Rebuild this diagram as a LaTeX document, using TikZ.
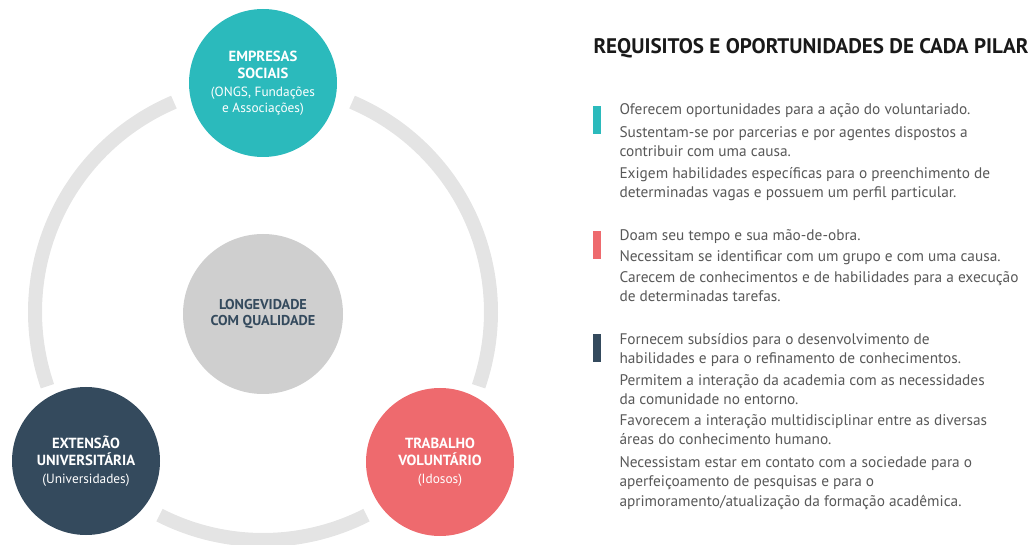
\documentclass[tikz,border=0pt]{standalone}
\usepackage{fontspec}
\setmainfont{PT Sans}
\usetikzlibrary{positioning}

\definecolor{pilarteal}{RGB}{43,186,188}
\definecolor{pilarred}{RGB}{238,106,110}
\definecolor{pilardark}{RGB}{52,74,93}
\definecolor{hubgray}{RGB}{207,207,207}
\definecolor{ringgray}{RGB}{228,228,228}
\definecolor{bodygray}{RGB}{88,88,88}

\tikzset{every picture/.style={line width=0.75pt}}
\tikzset{
  pillar/.style={circle, minimum size=111pt, inner sep=0pt, align=center, text=white,
    font=\fontsize{10}{12.5}\selectfont},
  ring/.style={draw=ringgray, line width=10.5pt},
  bar/.style={inner sep=0pt, minimum width=6.5pt, minimum height=21pt, anchor=north west},
  item/.style={anchor=base west, inner sep=0pt, align=left, text=bodygray,
    font=\fontsize{11.5}{14.6}\selectfont},
}
\newcommand{\pilartitle}[1]{{\fontsize{11}{12.5}\selectfont\bfseries #1}}

\begin{document}
\begin{tikzpicture}[x=0.75pt,y=0.75pt,yscale=-1,xscale=1]
\useasboundingbox (0,0) rectangle (1036,545);

%Ring arcs
\foreach \a/\b in {113/199, 243/297, -19/67}
  \draw[ring] plot[domain=\a:\b, samples=60] ({263+228*cos(\x)},{312-228*sin(\x)});

%Pillars
\node[pillar, fill=hubgray, minimum size=120pt, text=pilardark, font=\fontsize{10.7}{12}\selectfont\bfseries] (longevidade) at (263,314)
  {LONGEVIDADE\\ COM QUALIDADE};
\node[pillar, fill=pilarteal] (empresas) at (263,83)
  {\mbox{}\\[-4pt] \pilartitle{EMPRESAS}\\ \pilartitle{SOCIAIS}\\[1pt] (ONGS, Fundações\\ e Associações)};
\node[pillar, fill=pilardark] (extensao) at (86,461)
  {\pilartitle{EXTENSÃO}\\ \pilartitle{UNIVERSITÁRIA}\\[1pt] (Universidades)};
\node[pillar, fill=pilarred] (trabalho) at (440,462)
  {\pilartitle{TRABALHO}\\ \pilartitle{VOLUNTÁRIO}\\[1pt] (Idosos)};

%Title
\node[anchor=base west, inner sep=0pt, text=black!90, font=\fontsize{15.8}{18}\selectfont\bfseries] (titulo) at (593,54)
  {REQUISITOS E OPORTUNIDADES DE CADA PILAR};

%Bars
\node[bar, fill=pilarteal] (barteal) at (592,106) {};
\node[bar, fill=pilarred] (barred) at (592,231) {};
\node[bar, fill=pilardark] (bardark) at (592,334) {};

%Items: empresas (anchored at the last line)
\node[item] (e1) at (619,115) {Oferecem oportunidades para a ação do voluntariado.};
\node[item] (e2) at (619,157) {Sustentam-se por parcerias e por agentes dispostos a\\ contribuir com uma causa.};
\node[item] (e3) at (619,198) {Exigem habilidades específicas para o preenchimento de\\ determinadas vagas e possuem um perfil particular.};

%Items: trabalho
\node[item] (t1) at (619,241) {Doam seu tempo e sua mão-de-obra.};
\node[item] (t2) at (619,262) {Necessitam se identificar com um grupo e com uma causa.};
\node[item] (t3) at (619,302) {Carecem de conhecimentos e de habilidades para a execução\\ de determinadas tarefas.};

%Items: extensao
\node[item] (u1) at (619,364) {Fornecem subsídios para o desenvolvimento de\\ habilidades e para o refinamento de conhecimentos.};
\node[item] (u2) at (619,405) {Permitem a interação da academia com as necessidades\\ da comunidade no entorno.};
\node[item] (u3) at (619,445) {Favorecem a interação multidisciplinar entre as diversas\\ áreas do conhecimento humano.};
\node[item] (u4) at (619,506) {Necessistam estar em contato com a sociedade para o\\ aperfeiçoamento de pesquisas e para o\\ aprimoramento/atualização da formação acadêmica.};

\end{tikzpicture}
\end{document}
